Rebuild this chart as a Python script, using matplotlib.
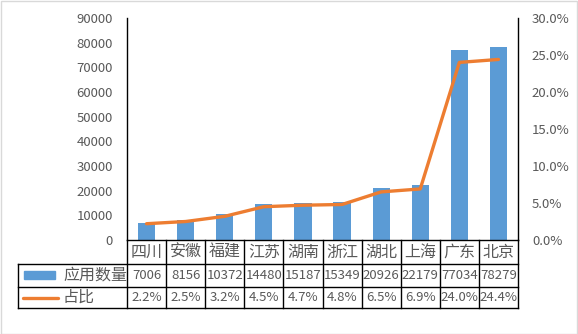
import numpy as np
import matplotlib.pyplot as plt
from matplotlib.lines import Line2D
from matplotlib.patches import Rectangle

plt.rcParams['font.family'] = ['Noto Sans CJK SC', 'DejaVu Sans']

provinces = ["四川", "安徽", "福建", "江苏", "湖南", "浙江", "湖北", "上海", "广东", "北京"]
app_count = [7006, 8156, 10372, 14480, 15187, 15349, 20926, 22179, 77034, 78279]
share_pct = [2.2, 2.5, 3.2, 4.5, 4.7, 4.8, 6.5, 6.9, 24.0, 24.4]
left_ticks = [0, 10000, 20000, 30000, 40000, 50000, 60000, 70000, 80000, 90000]
right_ticks = [0, 5, 10, 15, 20, 25, 30]

blue = "#5B9BD5"
orange = "#ED7D31"
grey = "#595959"

W, H = 578, 334
fig = plt.figure(figsize=(W / 100, H / 100), dpi=100)

def fx(px):
    return px / W

def fy(py):
    return 1 - py / H

x0, x1, y0, y1 = 127, 518, 18, 240
ax = fig.add_axes([fx(x0), fy(y1), fx(x1) - fx(x0), fy(y0) - fy(y1)])
n = len(provinces)
x = np.arange(n)
ax.bar(x, app_count, width=0.44, color=blue, zorder=2)
ax.set_xlim(-0.5, n - 0.5)
ax.set_ylim(0, 90000)
ax.set_yticks(left_ticks)
ax.set_yticklabels([str(v) for v in left_ticks])
ax.set_xticks([])
for s in ["top", "bottom", "right"]:
    ax.spines[s].set_visible(False)
ax.spines["left"].set_color("black")
ax.spines["left"].set_linewidth(1)
ax.tick_params(axis="y", length=0, pad=10, labelsize=9.5, labelcolor=grey)

ax2 = ax.twinx()
ax2.plot(x, share_pct, color=orange, lw=2.4, solid_capstyle="round", zorder=3)
ax2.set_ylim(0, 30)
ax2.set_yticks(right_ticks)
ax2.set_yticklabels([f"{v:.1f}%" for v in right_ticks])
for s in ["top", "bottom", "left"]:
    ax2.spines[s].set_visible(False)
ax2.spines["right"].set_color("black")
ax2.spines["right"].set_linewidth(1)
ax2.tick_params(axis="y", length=0, pad=10, labelsize=9.5, labelcolor=grey)

# data table under the plot
rows_y = [240, 264, 287, 308]
tx0 = 18
col_w = (x1 - x0) / n
lines = []
lines.append(([x0, x1], [rows_y[0], rows_y[0]]))
for ry in rows_y[1:]:
    lines.append(([tx0, x1], [ry, ry]))
lines.append(([tx0, tx0], [rows_y[1], rows_y[3]]))
for i in range(n + 1):
    cx = x0 + i * col_w
    lines.append(([cx, cx], [rows_y[0], rows_y[3]]))
for xs, ys in lines:
    fig.add_artist(Line2D([fx(v) for v in xs], [fy(v) for v in ys],
                          color="black", lw=1, transform=fig.transFigure))

for i in range(n):
    cx = fx(x0 + (i + 0.5) * col_w)
    fig.text(cx, fy((rows_y[0] + rows_y[1]) / 2), provinces[i], ha="center", va="center",
             fontsize=11.5, color=grey)
    fig.text(cx, fy((rows_y[1] + rows_y[2]) / 2), str(app_count[i]), ha="center", va="center",
             fontsize=9.5, color=grey)
    fig.text(cx, fy((rows_y[2] + rows_y[3]) / 2), f"{share_pct[i]:.1f}%", ha="center", va="center",
             fontsize=9.5, color=grey)

fig.add_artist(Rectangle((fx(24), fy(279)), fx(55) - fx(24), fy(271) - fy(279),
                         color=blue, transform=fig.transFigure))
fig.add_artist(Line2D([fx(23), fx(58)], [fy(297.5), fy(297.5)], color=orange, lw=2.4,
                      solid_capstyle="round", transform=fig.transFigure))
fig.text(fx(63), fy((rows_y[1] + rows_y[2]) / 2), "应用数量", ha="left", va="center",
         fontsize=11.5, color=grey)
fig.text(fx(63), fy((rows_y[2] + rows_y[3]) / 2), "占比", ha="left", va="center",
         fontsize=11.5, color=grey)

# outer frame
fig.add_artist(Rectangle((0.5 / W, 0.5 / H), 1 - 1.5 / W, 1 - 1.5 / H, fill=False,
                         edgecolor="#D9D9D9", lw=1, transform=fig.transFigure))

fig.savefig("out.png", dpi=100)
